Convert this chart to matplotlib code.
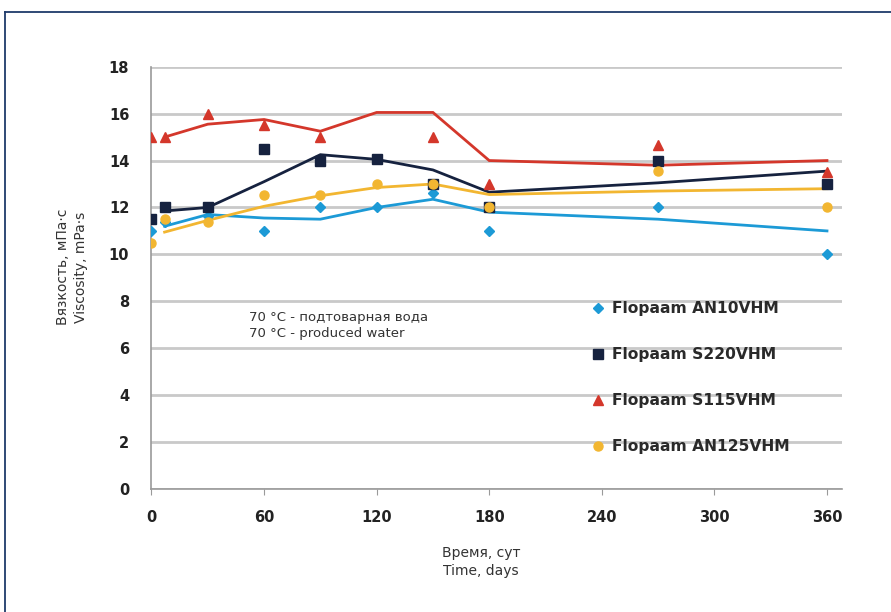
import matplotlib
matplotlib.use("Agg")
import matplotlib.pyplot as plt
from matplotlib.lines import Line2D

# measured viscosity, mPa*s
days_pts = [0, 7, 30, 60, 90, 120, 150, 180, 270, 360]
an10_pts = [11.0, 11.4, 11.65, 11.0, 12.0, 12.0, 12.6, 11.0, 12.0, 10.0]
s220_pts = [11.5, 12.0, 12.0, 14.5, 14.0, 14.05, 13.0, 12.0, 14.0, 13.0]
s115_days = [0, 7, 30, 60, 90, 150, 180, 270, 360]
s115_pts = [15.0, 15.0, 16.0, 15.5, 15.0, 15.0, 13.0, 14.65, 13.5]
an125_pts = [10.5, 11.5, 11.4, 12.55, 12.55, 13.0, 13.0, 12.0, 13.55, 12.0]

# smoothed trend lines
days_line = [7, 30, 60, 90, 120, 150, 180, 270, 360]
an10_line = [11.2, 11.7, 11.55, 11.5, 12.0, 12.35, 11.8, 11.5, 11.0]
s220_line = [11.85, 12.0, 13.1, 14.25, 14.05, 13.6, 12.65, 13.05, 13.55]
s115_line = [15.0, 15.55, 15.75, 15.25, 16.05, 16.05, 14.0, 13.8, 14.0]
an125_line = [10.95, 11.45, 12.05, 12.5, 12.85, 13.0, 12.55, 12.7, 12.8]

labels = ["Flopaam AN10VHM", "Flopaam S220VHM", "Flopaam S115VHM", "Flopaam AN125VHM"]
colors = ["#1c9ad6", "#16223f", "#d4372b", "#f2b631"]
markers = ["D", "s", "^", "o"]
msizes = [5.5, 7, 7.5, 6.5]

fig = plt.figure(figsize=(8.91, 6.12), dpi=100)
ax = fig.add_axes([0.170, 0.201, 0.775, 0.690])

series = [
    (days_pts, an10_pts, an10_line),
    (days_pts, s220_pts, s220_line),
    (s115_days, s115_pts, s115_line),
    (days_pts, an125_pts, an125_line),
]
for (xd, yd, yl), lab, c, m, ms in zip(series, labels, colors, markers, msizes):
    ax.plot(days_line, yl, color=c, lw=2.0, zorder=2, solid_joinstyle="miter")
    ax.plot(xd, yd, ls="none", marker=m, ms=ms, color=c, label=lab, zorder=3)

ax.set_xlim(0, 368)
ax.set_ylim(0, 18)
ax.set_xticks(range(0, 361, 60))
ax.set_yticks(range(0, 19, 2))
ax.yaxis.grid(True, color="#c9c9c9", lw=2.0)
ax.set_axisbelow(True)
for s in ["top", "right"]:
    ax.spines[s].set_visible(False)
ax.spines["left"].set_color("#9a9a9a")
ax.spines["bottom"].set_color("#9a9a9a")
ax.spines["left"].set_linewidth(1.2)
ax.spines["bottom"].set_linewidth(1.2)
ax.tick_params(axis="y", length=0, pad=16, labelsize=10.5, colors="#222222")
ax.tick_params(axis="x", length=4, direction="out", color="#9a9a9a", pad=11,
               labelsize=10.5, colors="#222222")
for t in ax.get_xticklabels() + ax.get_yticklabels():
    t.set_fontweight("bold")

ax.set_xlabel("Время, сут\nTime, days", fontsize=10, color="#333333",
              linespacing=1.4)
ax.xaxis.set_label_coords(0.477, -0.135)
ax.set_ylabel("Вязкость, мПа·с\nViscosity, mPa·s", fontsize=10, color="#333333",
              linespacing=1.4)
ax.yaxis.set_label_coords(-0.092, 0.525)

ax.text(52, 7.6, "70 °C - подтоварная вода\n70 °C - produced water",
        fontsize=9.5, color="#333333", va="top", ha="left", linespacing=1.35)

ax.legend(loc="upper left", bbox_to_anchor=(0.627, 0.46), frameon=False,
          labelspacing=2.0, handlelength=1.0, handletextpad=0.4,
          borderaxespad=0, labelcolor="#2a2a2a",
          prop={"weight": "bold", "size": 11.2})

# outer frame: top and left edges only
fig.add_artist(Line2D([5 / 891, 1.0], [1 - 12 / 612, 1 - 12 / 612],
                      transform=fig.transFigure, color="#1f3a6a", lw=1.3))
fig.add_artist(Line2D([5 / 891, 5 / 891], [0.0, 1 - 12 / 612],
                      transform=fig.transFigure, color="#1f3a6a", lw=1.3))

fig.savefig("out.png", dpi=100)
